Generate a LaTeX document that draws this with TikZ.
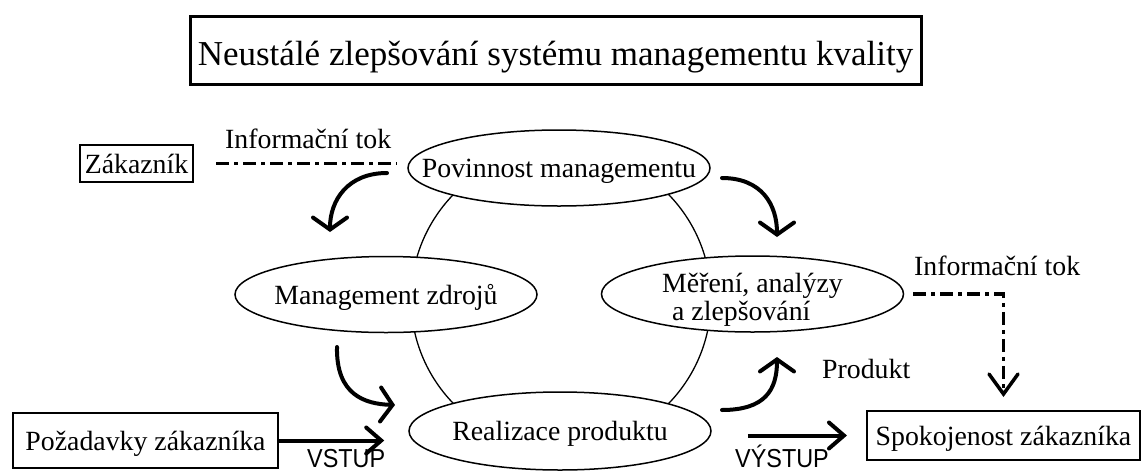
\documentclass[tikz,border=0pt]{standalone}
\usepackage{fontspec}
\usepackage{graphicx}
\setmainfont{Liberation Serif}
\newfontfamily\labelsans{Liberation Sans}
\usetikzlibrary{arrows.meta,shapes.geometric,calc}

\begin{document}
\begin{tikzpicture}[x=1pt,y=-1pt,
  txt/.style={font=\fontsize{27.8}{28}\selectfont, text height=19.5pt, text depth=0pt, inner sep=0pt},
  oval/.style={ellipse, draw, line width=1.5pt, fill=white, minimum width=302pt, minimum height=76pt, inner sep=0pt},
  box/.style={draw, line width=2pt, inner sep=0pt, txt},
  curv/.style={line width=4pt, line cap=round, -{Straight Barb[length=12pt,width=34pt,line cap=round]}},
  straight/.style={line width=4pt, -{Straight Barb[length=15pt,width=26pt,line cap=round]}},
  dashdot/.style={line width=3.5pt, dash pattern=on 13pt off 5pt on 4pt off 5pt},
  sanslab/.style={font=\labelsans\fontsize{26}{26}\selectfont, inner sep=0pt, anchor=base west}
]
\useasboundingbox (0,0) rectangle (1144,472);
\fill[white] (0,0) rectangle (1144,472);

% title
\node[draw, line width=3pt, minimum width=731pt, minimum height=68pt, inner sep=0pt,
      font=\fontsize{35}{36}\selectfont, text height=30pt, text depth=0pt]
      (title) at (555.5,50) {Neustálé zlepšování systému managementu kvality};

% circle of the cycle
\draw[line width=1.3pt] (561,299) circle[radius=150pt];

% ellipses
\node[oval] (pov) at (559,168) {};
\node[oval] (mz) at (386,294.5) {};
\node[oval] (mer) at (752.5,294) {};
\node[oval, minimum height=78pt] (real) at (560,431) {};

\node[txt] (povt) at (pov) {Povinnost managementu};
\node[txt] (mzt) at (mz) {Management zdrojů};
\node[txt] (realt) at (real) {Realizace produktu};
\node[txt, anchor=base west] (mert1) at (662,292) {Měření, analýzy};
\node[txt, anchor=base west] (mert2) at (672,320) {a zlepšování};

% boxes
\node[box, minimum width=113pt, minimum height=37pt] (zak) at (136.5,163.5) {Zákazník};
\node[box, line width=2.5pt, minimum width=265pt, minimum height=55pt] (poz) at (145.5,440.5) {Požadavky zákazníka};
\node[box, minimum width=273pt, minimum height=49pt] (spok) at (1003.5,435.5) {Spokojenost zákazníka};

% labels
\node[txt, anchor=base west] (info1) at (225,148) {Informační tok};
\node[txt, anchor=base west] (info2) at (914,275) {Informační tok};
\node[txt, anchor=base west] (prod) at (822,378) {Produkt};
\node[sanslab] (vstup) at (307,467) {\scalebox{0.9}[1]{VSTUP}};
\node[sanslab] (vystup) at (735,467) {\scalebox{0.9}[1]{VÝSTUP}};

% information flows
\draw[dashdot, shorten <=22pt, shorten >=10pt] (zak.east) -- (zak.east -| pov.west);
\draw[dashdot, -{Straight Barb[length=20pt,width=29pt,line cap=round]}, shorten <=9pt, shorten >=13pt]
  (mer.east) -| (spok.north);

% input / output arrows
\draw[straight, shorten >=24pt] (poz.east) -- (real.west |- poz.east);
\draw[straight, shorten <=36pt, shorten >=19pt] (real.east |- spok.west) -- (spok.west);

% curved cycle arrows
\coordinate (a1s) at (387,173); \coordinate (a1e) at (330,232);
\coordinate (a2s) at (722,178); \coordinate (a2e) at (777,237);
\coordinate (a3s) at (337,347); \coordinate (a3e) at (395,405);
\coordinate (a4s) at (722,410); \coordinate (a4e) at (777,357);
\draw[curv] (a1s) .. controls (348,173) and (330,200) .. (a1e);
\draw[curv] (a2s) .. controls (762,178) and (777,205) .. (a2e);
\draw[curv] (a3s) .. controls (336,395) and (365,404) .. (a3e);
\draw[curv] (a4s) .. controls (765,410) and (777,390) .. (a4e);
\end{tikzpicture}
\end{document}
